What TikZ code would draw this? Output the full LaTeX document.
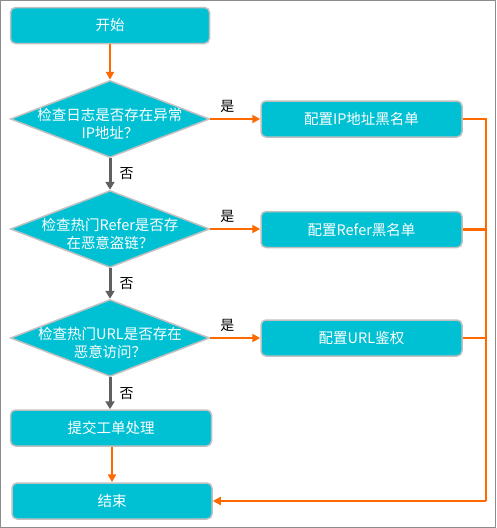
\documentclass[tikz,border=0pt]{standalone}
\usepackage{fontspec}
\setmainfont{Noto Sans CJK SC}
\usetikzlibrary{shapes.geometric,arrows.meta}
\definecolor{boxfill}{HTML}{00C1D4}
\definecolor{boxline}{HTML}{C0C0C0}
\definecolor{orangeline}{HTML}{FF6A00}
\definecolor{greyline}{HTML}{606060}
\definecolor{frameline}{HTML}{8C8C8C}
\tikzset{
  procbox/.style={draw=boxline, line width=1.5pt, fill=boxfill, rounded corners=5pt,
    minimum width=#1, minimum height=36pt, inner sep=0pt, text=white,
    font=\fontsize{14.5}{16}\selectfont},
  procbox/.default=200pt,
  decision/.style={draw=boxline, line width=1.5pt, fill=boxfill, diamond,
    minimum width=199pt, minimum height=77pt, inner sep=0pt},
  dtext/.style={text=white, align=center, font=\fontsize{14.5}{18}\selectfont, inner sep=0pt, yshift=-5pt},
  yesarrow/.style={draw=orangeline, line width=2.7pt, -{Triangle[length=8pt,width=8pt]}},
  orangeln/.style={draw=orangeline, line width=2.7pt},
  noarrow/.style={draw=greyline, line width=3pt, -{Triangle[length=8pt,width=9pt]}},
  lbl/.style={text=black, font=\fontsize{14}{15}\selectfont, inner sep=0pt},
}
\begin{document}
\begin{tikzpicture}[x=1pt,y=-1pt]
\draw[frameline, line width=1.2pt] (0.6,0.6) rectangle (495.4,527.4);
\useasboundingbox (0,0) rectangle (496,528);

\node[procbox=199pt] (start) at (110,25.5) {开始};
\node[decision] (d1) at (110,119) {};
\node[dtext] (d1t) at (110,119) {检查日志是否存在异常\\IP地址？};
\node[procbox=201pt] (b1) at (361.5,119) {配置IP地址黑名单};

\node[decision] (d2) at (110,229) {};
\node[dtext] (d2t) at (110,229) {检查热门Refer是否存\\在恶意盗链？};
\node[procbox=201pt] (b2) at (361.5,229.5) {配置Refer黑名单};

\node[decision] (d3) at (110,338) {};
\node[dtext] (d3t) at (110,338) {检查热门URL是否存在\\恶意访问？};
\node[procbox=201pt] (b3) at (361.5,338) {配置URL鉴权};

\node[procbox=201pt] (sub) at (111,428) {提交工单处理};
\node[procbox=200pt] (end) at (112,501) {结束};

\coordinate (r1) at (486,119);
\coordinate (r2) at (486,229.5);
\coordinate (r3) at (486,338);
\coordinate (r4) at (486,501);

\draw[yesarrow] (start.south) -- (d1.north);
\draw[yesarrow] (d1.east) -- (b1.west) node[lbl, midway, above=5pt, xshift=-8pt] {是};
\draw[yesarrow] (d2.east) -- (b2.west |- d2.east) node[lbl, midway, above=5pt, xshift=-8pt] {是};
\draw[yesarrow] (d3.east) -- (b3.west) node[lbl, midway, above=5pt, xshift=-8pt] {是};

\draw[noarrow] (d1.south) -- (d2.north) node[lbl, midway, right=8pt] {否};
\draw[noarrow] (d2.south) -- (d3.north) node[lbl, midway, right=8pt] {否};
\draw[noarrow] (d3.south) -- (sub.north -| d3.south) node[lbl, midway, right=8pt] {否};

\draw[yesarrow] (sub.south -| end.north) -- (end.north);

\draw[orangeln] (b1.east) -- (r1) -- (r4);
\draw[orangeln] (b2.east) -- (r2);
\draw[orangeln] (b3.east) -- (r3);
\draw[yesarrow] (r4) -- (end.east);
\end{tikzpicture}
\end{document}
